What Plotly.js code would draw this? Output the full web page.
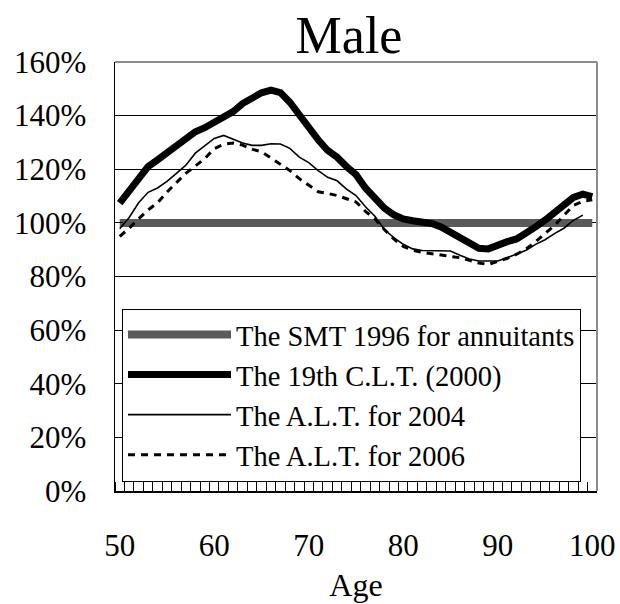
<!DOCTYPE html>
<html><head><meta charset="utf-8">
<script src="https://cdn.plot.ly/plotly-3.0.1.min.js"></script>
<style>html,body{margin:0;padding:0;background:#fff}</style>
</head><body>
<div id="chart" style="width:620px;height:604px"></div>
<script>
var ages = [];
for (var a = 50; a <= 100; a++) ages.push(a);
var ages2004 = ages.slice(0, 50); // 50..99

var smt1996 = [100,100,100,100,100,100,100,100,100,100,100,100,100,100,100,100,100,100,100,100,100,100,100,100,100,100,100,100,100,100,100,100,100,100,100,100,100,100,100,100,100,100,100,100,100,100,100,100,100,100,100];
var clt2000 = [107.4,112,117,121,123.5,126,128.5,131,134,135.5,137.5,140,141.5,144.5,146.5,148.5,149.5,148.6,145,140,135,131,127,124.5,121,118,113,109,105.5,103,101.5,100.8,100.3,99.8,98.5,96.5,95,92.5,90.5,90.3,92,93,94,96,98.5,101,104,106.5,109.5,110.7,109.8];
var alt2004 = [97.8,102,107.5,111.4,113,115.5,118.5,121.5,126,128.8,131.5,132.6,131.2,129.8,128.9,128.9,129.5,129.4,127.8,124.5,122.5,119.5,117,115.7,112.6,110.2,106,102.5,97.5,94.5,92,90.3,89.7,89.7,89.7,89.5,87.9,86.5,85.8,85.8,85.8,87,88.5,89.8,92,93.7,96,98,100.9,102.9];
var alt2006 = [95,98,101.5,104.8,107.5,111.5,115,118.5,121.2,124,127.7,129.3,129.8,129,127.5,126.5,124.2,122,119.5,116.5,113.9,111.6,111,110.2,109,107.8,104.3,101.5,97.5,94,91.2,89.8,89,88.5,88.1,87.5,87,86,85,84.5,85.6,86.8,88.3,90.3,93,96,99,102.8,106.5,108,108.6];

var names = ['The SMT 1996 for annuitants','The 19th C.L.T. (2000)','The A.L.T. for 2004','The A.L.T. for 2006'];
var xTickVals = [50,60,70,80,90,100];
var yTickVals = [0,20,40,60,80,100,120,140,160];
var yTickText = ['0%','20%','40%','60%','80%','100%','120%','140%','160%'];

var traces = [
  {x: ages, y: smt1996, name: names[0], mode: 'lines', line: {color: '#5a5a5a', width: 8}},
  {x: ages, y: clt2000, name: names[1], mode: 'lines', line: {color: '#000', width: 7}},
  {x: ages2004, y: alt2004, name: names[2], mode: 'lines', line: {color: '#000', width: 1.6}},
  {x: ages, y: alt2006, name: names[3], mode: 'lines', line: {color: '#000', width: 3, dash: '7px,6px'}}
];

var serif = 'Liberation Serif, Times New Roman, serif';
var layout = {
  width: 620, height: 604,
  margin: {l: 115, r: 23, t: 62, b: 113},
  paper_bgcolor: '#fff', plot_bgcolor: '#fff',
  showlegend: true,
  title: {text: 'Male', font: {family: serif, size: 52, color: '#000'}, x: 349/620, xanchor: 'center', xref: 'container', y: 1 - 35/604, yanchor: 'middle', yref: 'container'},
  xaxis: {
    range: [49.5, 100.5], tickvals: xTickVals, ticks: '', showgrid: false, zeroline: false,
    showline: true, linecolor: '#000', linewidth: 1.5,
    tickfont: {family: serif, size: 31, color: '#000'}, ticklabelstandoff: 26,
    minor: {tick0: 49.5, dtick: 1, ticks: 'inside', ticklen: 9, tickcolor: '#000', tickwidth: 1, showgrid: false},
    title: {text: 'Age', font: {family: serif, size: 32, color: '#000'}, standoff: 12}
  },
  yaxis: {
    range: [0, 160], tickvals: yTickVals, ticktext: yTickText, ticks: 'inside', ticklen: 8, tickcolor: '#000',
    showgrid: true, gridcolor: '#000', gridwidth: 1, zeroline: false,
    showline: true, linecolor: '#000', linewidth: 1.5,
    tickfont: {family: serif, size: 31, color: '#000'}, ticklabelstandoff: 21
  },
  shapes: [
    {type: 'line', xref: 'paper', yref: 'paper', x0: 0, x1: 1, y0: 1, y1: 1, line: {color: '#8c8c8c', width: 2}},
    {type: 'line', xref: 'paper', yref: 'paper', x0: 1, x1: 1, y0: 0, y1: 1, line: {color: '#8c8c8c', width: 2}}
  ],
  legend: {
    x: 7/482, y: 9.5/429, xanchor: 'left', yanchor: 'bottom',
    bgcolor: '#fff', bordercolor: '#000', borderwidth: 1,
    font: {family: serif, size: 28.5, color: '#000'},
    itemwidth: 103, tracegroupgap: 0
  }
};
Plotly.newPlot('chart', traces, layout, {displayModeBar: false, staticPlot: true});
</script>
</body></html>
